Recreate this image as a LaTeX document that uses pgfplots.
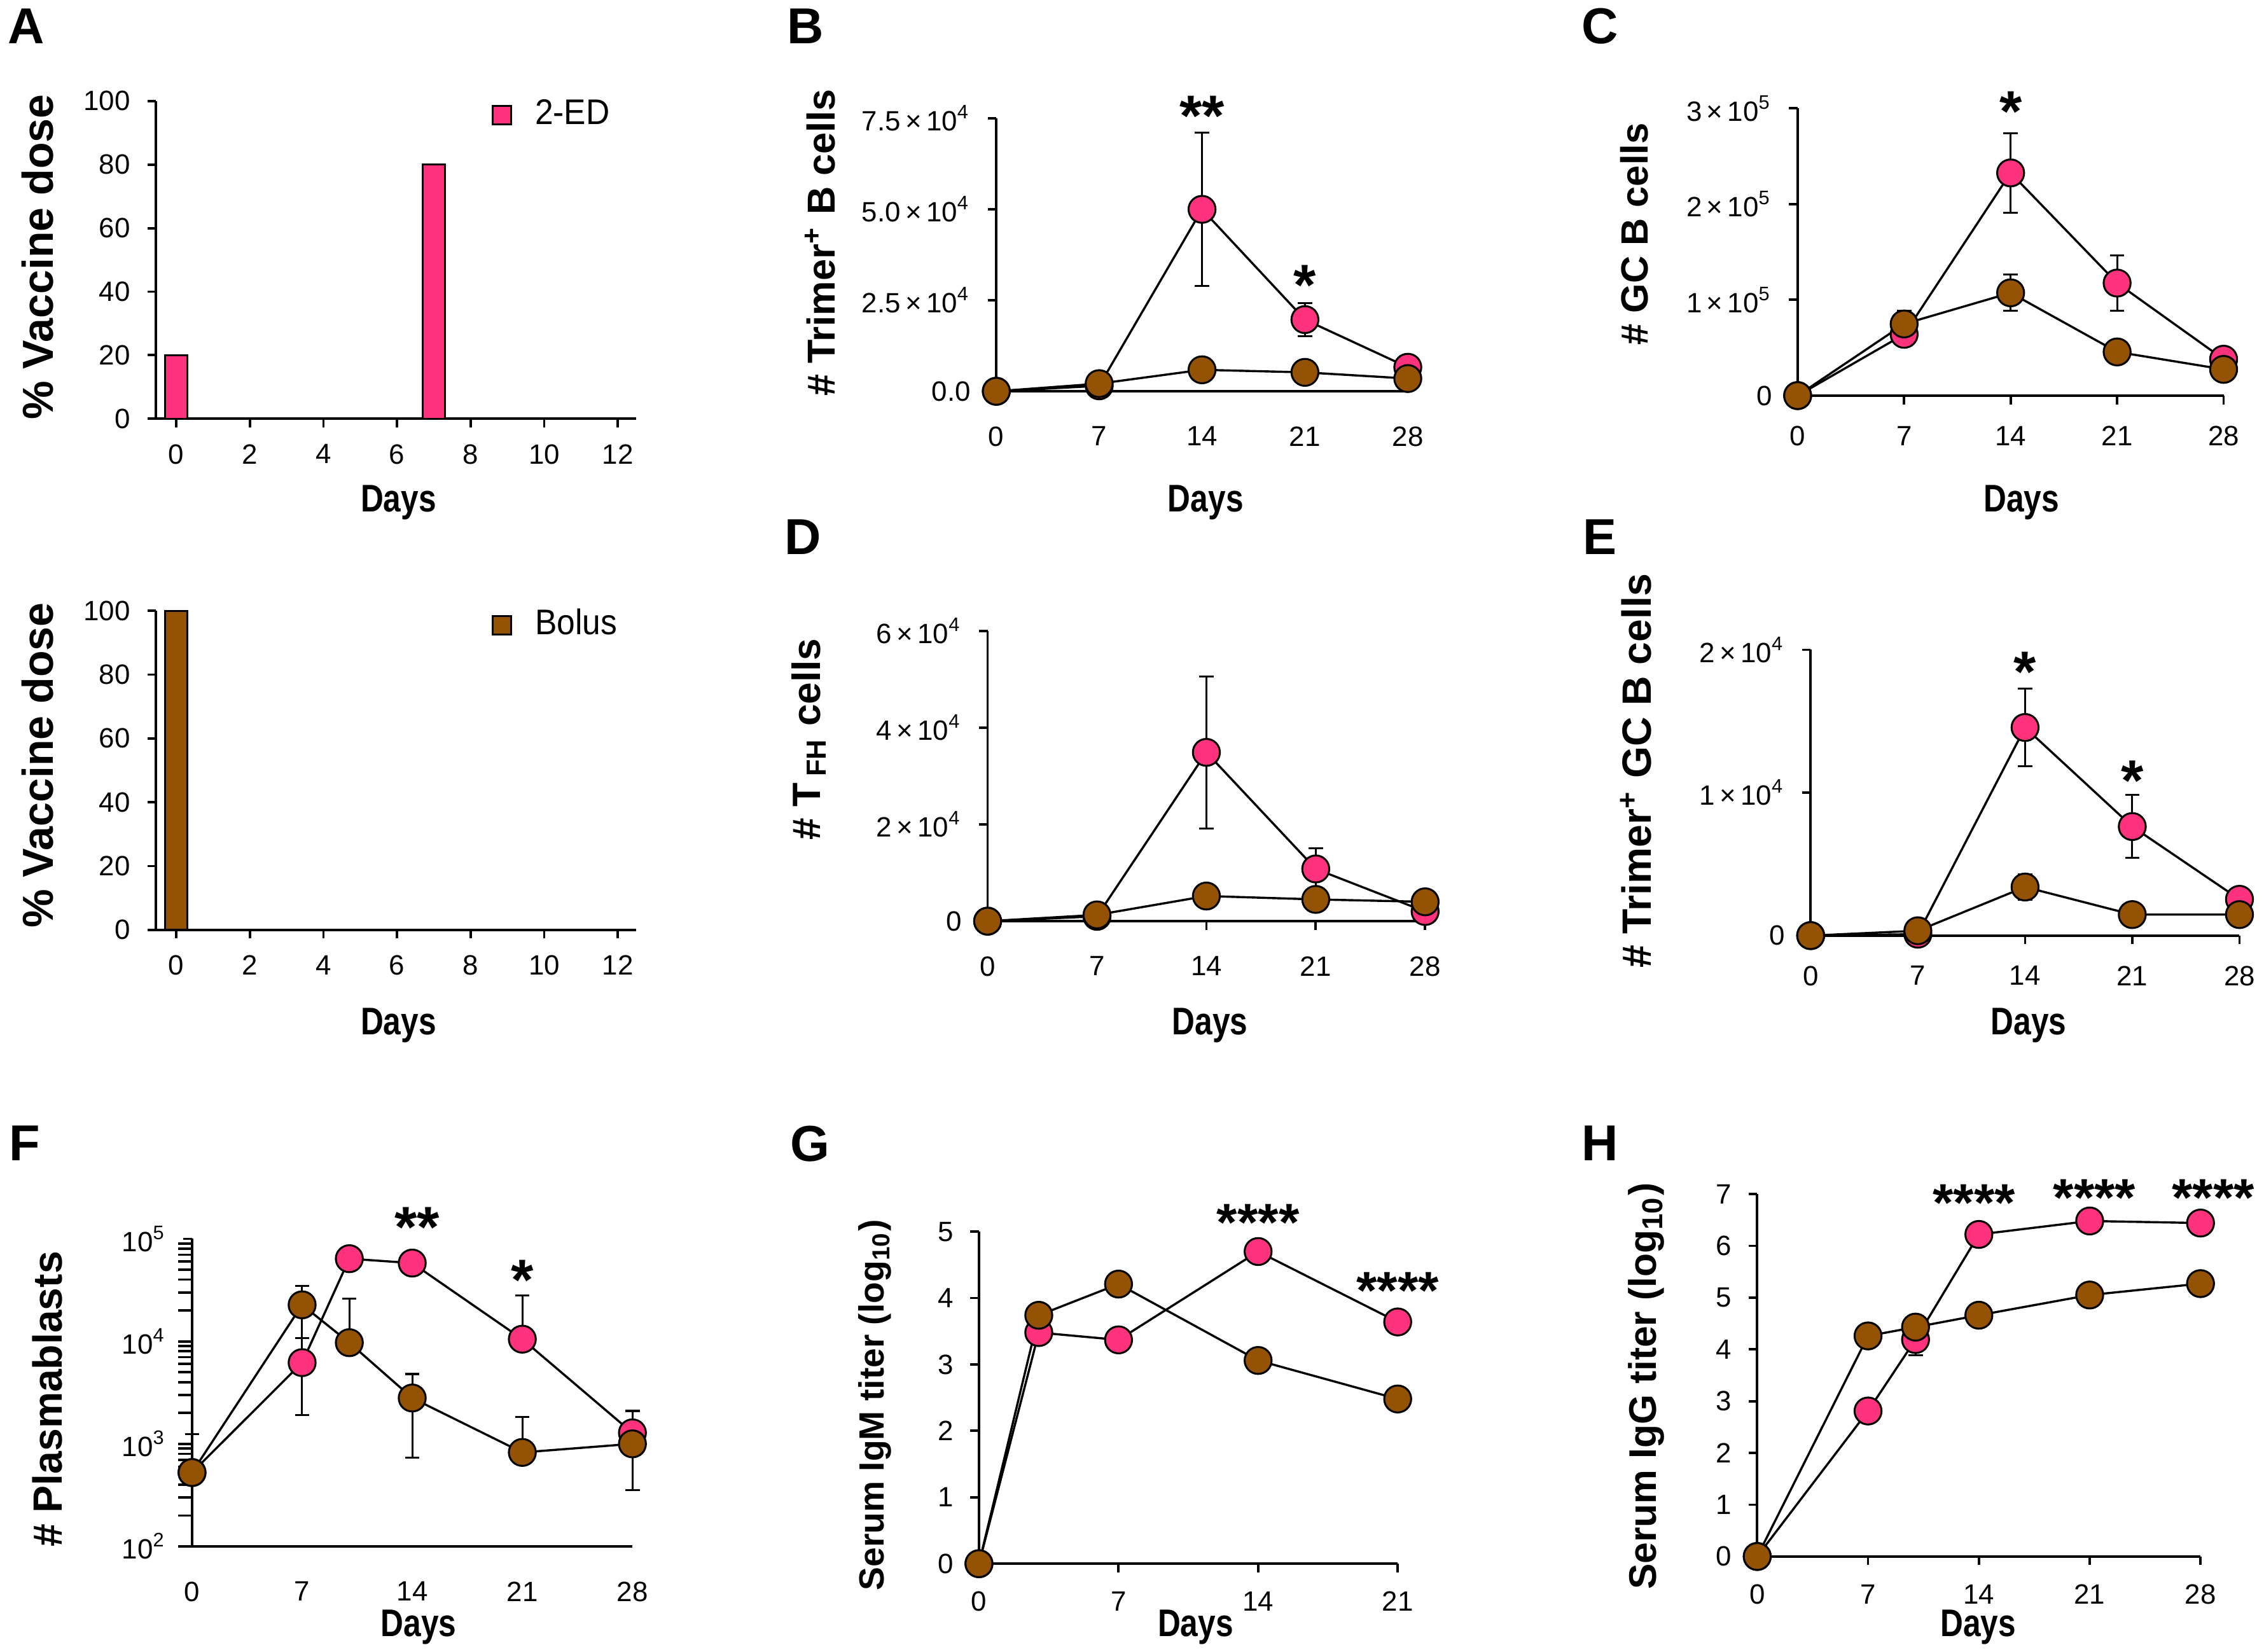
\documentclass[border=0pt]{standalone}
\usepackage{pgfplots}
\pgfplotsset{compat=1.18}
\usepackage{fontspec}
\setmainfont{Liberation Sans}
\newfontfamily\daysfont[FakeStretch=0.82]{Liberation Sans Bold}
\newfontfamily\legfont[FakeStretch=0.92]{Liberation Sans}
\definecolor{pinkc}{RGB}{255,51,125}
\definecolor{brownc}{RGB}{148,82,5}
\pgfplotsset{
  panel/.style={
    scale only axis, clip=false, anchor=south west,
    axis x line*=bottom, axis y line*=left,
    axis line style={black, line width=0.5pt},
    tick align=outside, major tick length=1.8pt,
    tick style={black, line width=0.5pt},
    minor tick num=0,
    tick label style={font=\fontsize{5.8}{7}\selectfont},
    /pgf/number format/assume math mode=true,
    scaled y ticks=false,
  },
  pinkline/.style={black, line width=0.45pt, mark=*, mark size=2.8pt,
    mark options={fill=pinkc, draw=black, line width=0.4pt, solid},
    error bars/y dir=both, error bars/y explicit,
    error bars/error bar style={black, line width=0.4pt},
    error bars/error mark options={rotate=90, mark size=1.5pt, black, line width=0.4pt}},
  brownline/.style={black, line width=0.45pt, mark=*, mark size=2.8pt,
    mark options={fill=brownc, draw=black, line width=0.4pt, solid},
    error bars/y dir=both, error bars/y explicit,
    error bars/error bar style={black, line width=0.4pt},
    error bars/error mark options={rotate=90, mark size=1.5pt, black, line width=0.4pt}},
}
\tikzset{
  stars/.style={font=\fontsize{12}{12}\selectfont\bfseries, anchor=center, inner sep=0pt, yshift=-2.5pt},
  stars4/.style={font=\fontsize{11}{11}\selectfont\bfseries, anchor=center, inner sep=0pt, yshift=-2.3pt},
}
\begin{document}
\begin{tikzpicture}
\useasboundingbox (0,0) rectangle (470.4pt,343.2pt);

% ---------- A top ----------
\begin{axis}[panel, at={(32.4pt,256.2pt)}, width=99.8pt, height=66pt,
  xmin=-0.55, xmax=12.5, ymin=0, ymax=100,
  xtick={0,2,...,12}, ytick={0,20,...,100},
  ybar, bar width=0.62,
  legend style={at={(0.697,0.955)}, anchor=west, draw=none, fill=none,
    font=\legfont\fontsize{7.4}{8}\selectfont, inner sep=0pt},
  legend image code/.code={\draw[fill=pinkc, draw=black, line width=0.4pt] (0pt,-1.9pt) rectangle (3.8pt,1.9pt);}]
\addplot[fill=pinkc, draw=black, line width=0.4pt] coordinates {(0,20) (7,80)};
\addlegendentry{\hspace{2.8pt}2-ED}
\end{axis}

% ---------- A bottom ----------
\begin{axis}[panel, at={(32.4pt,150pt)}, width=99.8pt, height=66.3pt,
  xmin=-0.55, xmax=12.5, ymin=0, ymax=100,
  xtick={0,2,...,12}, ytick={0,20,...,100},
  ybar, bar width=0.62,
  legend style={at={(0.697,0.955)}, anchor=west, draw=none, fill=none,
    font=\legfont\fontsize{7.4}{8}\selectfont, inner sep=0pt},
  legend image code/.code={\draw[fill=brownc, draw=black, line width=0.4pt] (0pt,-1.9pt) rectangle (3.8pt,1.9pt);}]
\addplot[fill=brownc, draw=black, line width=0.4pt] coordinates {(0,100)};
\addlegendentry{\hspace{2.8pt}Bolus}
\end{axis}

% ---------- B ----------
\begin{axis}[panel, at={(207pt,261.9pt)}, width=85.5pt, height=56.7pt,
  xmin=0, xmax=28, ymin=0, ymax=75000,
  xtick={0,7,14,21,28}, x tick style={draw=none},
  xticklabel style={yshift=-2pt},
  ytick={0,25000,50000,75000},
  yticklabels={0.0, 2.5\,×\,10\textsuperscript{4}, 5.0\,×\,10\textsuperscript{4}, 7.5\,×\,10\textsuperscript{4}}]
\addplot[pinkline] coordinates {(0,0) (7,1500) (14,50000) +- (0,21000) (21,19700) +- (0,4500) (28,6600)};
\addplot[brownline] coordinates {(0,0) (7,2100) (14,5900) (21,5200) (28,3500)};
\node[stars] at (axis cs:14,79000) {**};
\node[stars] at (axis cs:21,32500) {*};
\end{axis}

% ---------- C ----------
\begin{axis}[panel, at={(373.5pt,261pt)}, width=88.5pt, height=59.7pt,
  xmin=0, xmax=28, ymin=0, ymax=300000,
  xtick={0,7,14,21,28}, xticklabel style={yshift=-1pt},
  ytick={0,100000,200000,300000},
  yticklabels={0, 1\,×\,10\textsuperscript{5}, 2\,×\,10\textsuperscript{5}, 3\,×\,10\textsuperscript{5}}]
\addplot[pinkline] coordinates {(0,0) (7,64000) +- (0,5000) (14,232500) +- (0,41500) (21,117500) +- (0,29000) (28,38000)};
\addplot[brownline] coordinates {(0,0) (7,74800) +- (0,14000) (14,107300) +- (0,19000) (21,45600) (28,27400)};
\node[stars] at (axis cs:14,309000) {*};
\end{axis}

% ---------- D ----------
\begin{axis}[panel, at={(205.2pt,151.8pt)}, width=90.9pt, height=60.3pt,
  xmin=0, xmax=28, ymin=0, ymax=60000,
  xtick={0,7,14,21,28}, xticklabel style={yshift=-2pt},
  ytick={0,20000,40000,60000},
  yticklabels={0, 2\,×\,10\textsuperscript{4}, 4\,×\,10\textsuperscript{4}, 6\,×\,10\textsuperscript{4}}]
\addplot[pinkline] coordinates {(0,0) (7,1000) (14,34900) +- (0,15700) (21,10800) +- (0,4300) (28,2000)};
\addplot[brownline] coordinates {(0,0) (7,1300) (14,5200) (21,4500) (28,4000)};
\end{axis}

% ---------- E ----------
\begin{axis}[panel, at={(376.2pt,148.8pt)}, width=89.1pt, height=59.4pt,
  xmin=0, xmax=28, ymin=0, ymax=20000,
  xtick={0,7,14,21,28}, xticklabel style={yshift=-1pt},
  ytick={0,10000,20000},
  yticklabels={0, 1\,×\,10\textsuperscript{4}, 2\,×\,10\textsuperscript{4}}]
\addplot[pinkline] coordinates {(0,0) (7,100) (14,14560) +- (0,2700) (21,7630) +- (0,2200) (28,2540)};
\addplot[brownline] coordinates {(0,0) (7,340) (14,3400) +- (0,900) (21,1470) (28,1470)};
\node[stars] at (axis cs:14,19300) {*};
\node[stars] at (axis cs:21,11700) {*};
\end{axis}

% ---------- F ----------
\begin{axis}[panel, ymode=log, at={(39.9pt,21.9pt)}, width=91.5pt, height=63.9pt,
  xmin=0, xmax=28, ymin=100, ymax=100000,
  xtick={0,7,14,21,28}, x tick style={draw=none}, xticklabel style={yshift=-2pt},
  ytick={100,1000,10000,100000},
  yticklabels={10\textsuperscript{2}, 10\textsuperscript{3}, 10\textsuperscript{4}, 10\textsuperscript{5}}]
\addplot[pinkline] coordinates {(0,525) (7,6200) += (0,4500) -= (0,4300) (10,64000) (14,58000) (21,10500) += (0,17500) -= (0,0) (28,1280) += (0,800) -= (0,0)};
\addplot[brownline] coordinates {(0,525) += (0,725) -= (0,425) (7,22700) += (0,11800) -= (0,12000) (10,9700) += (0,16300) -= (0,0) (14,2800) += (0,2000) -= (0,2070) (21,825) += (0,1000) -= (0,0) (28,1000) += (0,1100) -= (0,648)};
\node[stars] at (axis cs:14.3,170000) {**};
\node[stars] at (axis cs:21,52000) {*};
\end{axis}

% ---------- G ----------
\begin{axis}[panel, at={(203.4pt,18.3pt)}, width=87pt, height=69pt,
  xmin=0, xmax=21, ymin=0, ymax=5,
  xtick={0,7,14,21}, xticklabel style={yshift=-0.5pt},
  ytick={0,1,...,5}]
\addplot[pinkline] coordinates {(0,0) (3,3.48) (7,3.37) (14,4.70) (21,3.64) +- (0,0.14)};
\addplot[brownline] coordinates {(0,0) (3,3.74) (7,4.21) (14,3.06) (21,2.48)};
\node[stars4] at (axis cs:14,5.3) {****};
\node[stars4] at (axis cs:21,4.28) {****};
\end{axis}

% ---------- H ----------
\begin{axis}[panel, at={(365.1pt,19.8pt)}, width=92.1pt, height=75.3pt,
  xmin=0, xmax=28, ymin=0, ymax=7,
  xtick={0,7,14,21,28}, xticklabel style={yshift=-0.5pt},
  ytick={0,1,...,7}]
\addplot[pinkline] coordinates {(0,0) (7,2.81) (10,4.19) += (0,0) -= (0,0.3) (14,6.22) (21,6.48) (28,6.44)};
\addplot[brownline] coordinates {(0,0) (7,4.26) (10,4.43) (14,4.66) (21,5.05) (28,5.27)};
\node[stars4] at (axis cs:13.7,7.05) {****};
\node[stars4] at (axis cs:21.3,7.14) {****};
\node[stars4] at (axis cs:28.8,7.14) {****};
\end{axis}

% ---------- labels ----------
\begin{scope}[x=0.3pt, y=0.3pt]
\begin{scope}[every node/.style={font=\fontsize{10.5}{12}\selectfont\bfseries}]
\node at (18,1126) {A};
\node at (558,1126) {B};
\node at (1108,1126) {C};
\node at (556,772) {D};
\node at (1108,772) {E};
\node at (17,352) {F};
\node at (561,352) {G};
\node at (1108,352) {H};
\end{scope}
\begin{scope}[every node/.style={font=\daysfont\fontsize{8}{9}\selectfont}]
\node at (276,796) {Days};
\node at (276,434) {Days};
\node at (835,796) {Days};
\node at (1400,796) {Days};
\node at (838,434) {Days};
\node at (1405,434) {Days};
\node at (290,17) {Days};
\node at (828,17) {Days};
\node at (1370,17) {Days};
\end{scope}
\node[rotate=90, font=\fontsize{9}{10}\selectfont\bfseries] at (26,966) {\% Vaccine dose};
\node[rotate=90, font=\fontsize{9}{10}\selectfont\bfseries] at (26,614) {\% Vaccine dose};
\node[rotate=90, font=\fontsize{8.1}{10}\selectfont\bfseries] at (568,976) {\# Trimer\textsuperscript{+} B cells};
\node[rotate=90, font=\fontsize{7.9}{10}\selectfont\bfseries] at (1132,982) {\# GC B cells};
\node[rotate=90, font=\fontsize{8.2}{10}\selectfont\bfseries] at (560,632) {\# T\,\textsubscript{FH} cells};
\node[rotate=90, font=\fontsize{8.5}{10}\selectfont\bfseries] at (1133,610) {\# Trimer\textsuperscript{+} GC B cells};
\node[rotate=90, font=\fontsize{8.5}{10}\selectfont\bfseries] at (33,175) {\# Plasmablasts};
\node[rotate=90, font=\fontsize{7.3}{10}\selectfont\bfseries] at (606,171) {Serum IgM titer (log\textsubscript{10})};
\node[rotate=90, font=\fontsize{8}{10}\selectfont\bfseries] at (1140,184) {Serum IgG titer (log\textsubscript{10})};
\end{scope}
\end{tikzpicture}
\end{document}
